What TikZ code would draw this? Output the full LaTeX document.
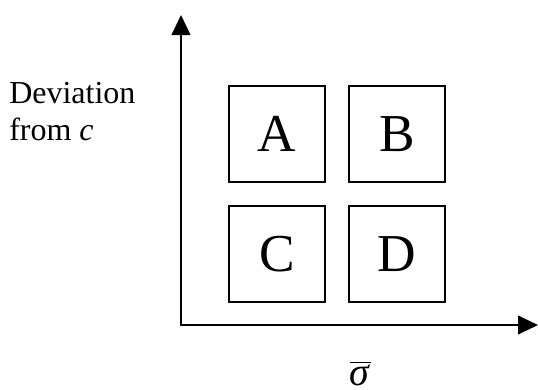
\documentclass[tikz,border=0pt]{standalone}
\usepackage{fontspec}
\setmainfont{Liberation Serif}
\usepackage{tikz}
\usetikzlibrary{arrows.meta}
\tikzset{>={Triangle[length=15pt,width=14pt]}}
\tikzset{cell/.style={draw,line width=1.1pt,minimum size=72pt,inner sep=0pt,font=\fontsize{40}{48}\selectfont},
  lbl/.style={font=\fontsize{24}{27.75}\selectfont,inner sep=0pt}}

\begin{document}
\begin{tikzpicture}[x=0.75pt,y=-0.75pt]
    \useasboundingbox (0,0) rectangle (538,389);

    \coordinate (origin) at (181,325);
    \coordinate (ytip) at (181,15);
    \coordinate (xtip) at (538,325);
    \draw[line width=1.5pt,<->] (ytip)--(origin)--(xtip);

    \node[cell] (A) at (277,134) {A};
    \node[cell] (B) at (397,134) {B};
    \node[cell] (C) at (277,254) {C};
    \node[cell] (D) at (397,254) {D};

    \node[lbl,align=left,anchor=base west] (dev) at (9,140) {Deviation\\from \textit{c}};
    \node[lbl,anchor=base,font=\fontsize{30}{34}\selectfont] (sig) at (360,385) {$\overline{\mbox{\textit{σ}}}$};
\end{tikzpicture}
\end{document}
